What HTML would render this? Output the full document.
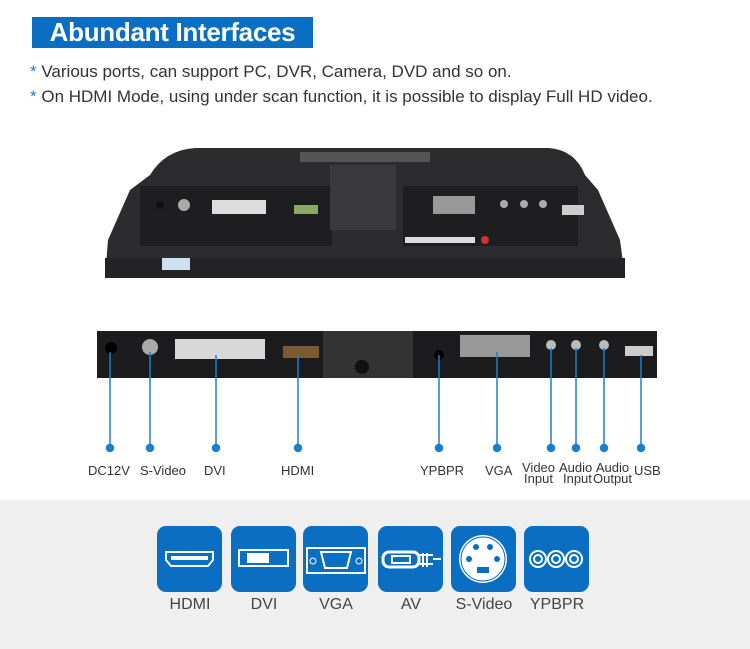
<!DOCTYPE html>
<html><head><meta charset="utf-8"><style>
*{margin:0;padding:0}
body{width:750px;height:649px;background:#fff;position:relative;overflow:hidden;font-family:"Liberation Sans",sans-serif}
.t{position:absolute;left:32px;top:17px;width:281px;height:31px;background:#0a6fc2;color:#fff;font-weight:bold;font-size:26px;line-height:31px;text-align:center;letter-spacing:-0.3px}
.l{position:absolute;left:30px;font-size:17px;color:#333}
.l b{color:#1a7fd0;font-weight:normal}
.band{position:absolute;left:0;top:500px;width:750px;height:149px;background:#efefef}
.ic{position:absolute;top:526px;width:65px;height:66px;background:#0a6fc2;border-radius:9px}
.il{position:absolute;top:596px;width:90px;text-align:center;font-size:16px;color:#444}
.pl{position:absolute;top:462px;font-size:13px;color:#333;text-align:center;line-height:11px}
</style></head><body>
<div class="t">Abundant Interfaces</div>
<div class="l" style="top:62px"><b>*</b> Various ports, can support PC, DVR, Camera, DVD and so on.</div>
<div class="l" style="top:87px"><b>*</b> On HDMI Mode, using under scan function, it is possible to display Full HD video.</div>
<svg style="position:absolute;left:0;top:0" width="750" height="500">
<path d="M195 148 L549 148 Q575 150 585 175 L598 190 L620 240 L625 278 L105 278 L108 240 L130 190 L150 175 Q165 150 195 148Z" fill="#2c2c2e"/>
<rect x="140" y="186" width="192" height="60" fill="#1e1e20"/>
<rect x="403" y="186" width="175" height="60" fill="#1e1e20"/>
<rect x="330" y="165" width="66" height="65" fill="#3a3a3c"/>
<rect x="300" y="152" width="130" height="10" fill="#555"/>
<rect x="105" y="258" width="520" height="20" fill="#242426"/>
<rect x="162" y="258" width="28" height="12" fill="#cfe0ee"/>
<rect x="405" y="237" width="70" height="6" fill="#ddd"/>
<circle cx="485" cy="240" r="4" fill="#c33"/>
<rect x="212" y="200" width="54" height="14" fill="#ddd"/>
<rect x="294" y="205" width="24" height="9" fill="#8a6"/>
<rect x="433" y="196" width="42" height="18" fill="#999"/>
<circle cx="184" cy="205" r="6" fill="#aaa"/>
<circle cx="160" cy="205" r="4" fill="#111"/>
<circle cx="504" cy="204" r="4" fill="#aaa"/><circle cx="524" cy="204" r="4" fill="#aaa"/><circle cx="543" cy="204" r="4" fill="#aaa"/>
<rect x="562" y="205" width="22" height="10" fill="#ccc"/>
<rect x="97" y="331" width="560" height="47" fill="#1c1c1e"/>
<rect x="323" y="331" width="90" height="47" fill="#333"/>
<rect x="175" y="339" width="90" height="20" fill="#d8d8d8"/>
<circle cx="150" cy="347" r="8" fill="#aaa"/>
<circle cx="111" cy="348" r="6" fill="#000"/>
<rect x="283" y="346" width="36" height="12" fill="#7a5a30"/>
<rect x="460" y="335" width="70" height="22" fill="#999"/>
<circle cx="362" cy="367" r="7" fill="#111"/>
<circle cx="439" cy="355" r="5" fill="#000"/>
<circle cx="551" cy="345" r="5" fill="#bbb"/><circle cx="576" cy="345" r="5" fill="#bbb"/><circle cx="604" cy="345" r="5" fill="#bbb"/>
<rect x="625" y="346" width="28" height="10" fill="#ccc"/>
<g stroke="#1a7fd0" stroke-width="1.5" fill="#1a7fd0">
<line x1="110" y1="352" x2="110" y2="448"/><circle cx="110" cy="448" r="3.5"/>
<line x1="150" y1="352" x2="150" y2="448"/><circle cx="150" cy="448" r="3.5"/>
<line x1="216" y1="355" x2="216" y2="448"/><circle cx="216" cy="448" r="3.5"/>
<line x1="298" y1="355" x2="298" y2="448"/><circle cx="298" cy="448" r="3.5"/>
<line x1="439" y1="355" x2="439" y2="448"/><circle cx="439" cy="448" r="3.5"/>
<line x1="497" y1="352" x2="497" y2="448"/><circle cx="497" cy="448" r="3.5"/>
<line x1="551" y1="348" x2="551" y2="448"/><circle cx="551" cy="448" r="3.5"/>
<line x1="576" y1="348" x2="576" y2="448"/><circle cx="576" cy="448" r="3.5"/>
<line x1="604" y1="348" x2="604" y2="448"/><circle cx="604" cy="448" r="3.5"/>
<line x1="641" y1="355" x2="641" y2="448"/><circle cx="641" cy="448" r="3.5"/>
</g>
</svg>
<div class="pl" style="left:88px;top:465px">DC12V</div>
<div class="pl" style="left:140px;top:465px">S-Video</div>
<div class="pl" style="left:204px;top:465px">DVI</div>
<div class="pl" style="left:281px;top:465px">HDMI</div>
<div class="pl" style="left:420px;top:465px">YPBPR</div>
<div class="pl" style="left:485px;top:465px">VGA</div>
<div class="pl" style="left:522px;top:462px">Video<br>Input</div>
<div class="pl" style="left:559px;top:462px">Audio<br>&nbsp;Input</div>
<div class="pl" style="left:593px;top:462px">Audio<br>Output</div>
<div class="pl" style="left:634px;top:465px">USB</div>
<div class="band"></div>
<div class="ic" style="left:157px"><svg width="65" height="66"><path d="M9 26h47v8l-5 6H14l-5-6z" fill="none" stroke="#fff" stroke-width="2"/><rect x="14" y="30" width="37" height="4" fill="#fff"/></svg></div>
<div class="ic" style="left:231px"><svg width="65" height="66"><rect x="8" y="24" width="49" height="16" fill="none" stroke="#fff" stroke-width="2"/><rect x="16" y="27" width="22" height="10" fill="#fff"/></svg></div>
<div class="ic" style="left:303px"><svg width="65" height="66"><rect x="4" y="22" width="58" height="25" fill="none" stroke="#fff" stroke-width="2"/><path d="M18 26h30l-4 16H22z" fill="none" stroke="#fff" stroke-width="2"/><circle cx="10" cy="35" r="3" fill="none" stroke="#fff"/><circle cx="56" cy="35" r="3" fill="none" stroke="#fff"/></svg></div>
<div class="ic" style="left:378px"><svg width="65" height="66"><rect x="5" y="26" width="36" height="15" rx="6" fill="none" stroke="#fff" stroke-width="3"/><rect x="14" y="30" width="18" height="7" fill="none" stroke="#fff" stroke-width="2"/><path d="M41 29h14M41 38h14M45 27v14M49 27v14M55 33h8" stroke="#fff" stroke-width="2"/></svg></div>
<div class="ic" style="left:451px"><svg width="65" height="66"><circle cx="32" cy="33" r="24" fill="#fff"/><circle cx="32" cy="33" r="22" fill="none" stroke="#0a6fc2"/><circle cx="18" cy="33" r="3" fill="#0a6fc2"/><circle cx="46" cy="33" r="3" fill="#0a6fc2"/><circle cx="25" cy="21" r="3" fill="#0a6fc2"/><circle cx="39" cy="21" r="3" fill="#0a6fc2"/><rect x="26" y="41" width="12" height="6" fill="#0a6fc2"/></svg></div>
<div class="ic" style="left:524px"><svg width="65" height="66"><g fill="none" stroke="#fff" stroke-width="2"><circle cx="14" cy="33" r="8"/><circle cx="14" cy="33" r="4"/><circle cx="32" cy="33" r="8"/><circle cx="32" cy="33" r="4"/><circle cx="50" cy="33" r="8"/><circle cx="50" cy="33" r="4"/></g></svg></div>
<div class="il" style="left:145px">HDMI</div>
<div class="il" style="left:219px">DVI</div>
<div class="il" style="left:291px">VGA</div>
<div class="il" style="left:366px">AV</div>
<div class="il" style="left:439px">S-Video</div>
<div class="il" style="left:512px">YPBPR</div>
</body></html>
